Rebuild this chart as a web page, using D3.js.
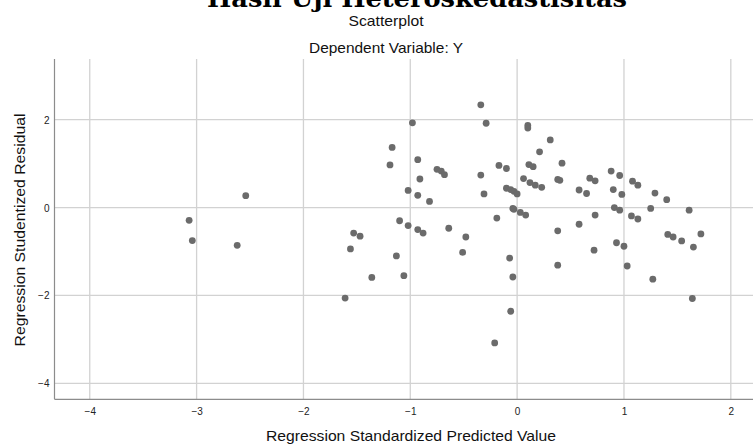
<!DOCTYPE html>
<html>
<head>
<meta charset="utf-8">
<script src="https://d3js.org/d3.v7.min.js"></script>
<style>
    body { margin: 0; background: #fff; }
    svg { display: block; overflow: hidden; }
    .tick-label { font-family: "Liberation Sans", Arial, sans-serif; font-size: 10px; fill: #222; }
    .lbl { font-family: "Liberation Sans", Arial, sans-serif; font-size: 15px; fill: #111; }
</style>
</head>
<body>
<div id="chart"></div>
<script>
    // chart texts
    var mainTitle = "Hasil Uji Heteroskedastisitas";
    var chartTitle = "Scatterplot";
    var subTitle = "Dependent Variable: Y";
    var xLabel = "Regression Standardized Predicted Value";
    var yLabel = "Regression Studentized Residual";

    var xTicks = [-4, -3, -2, -1, 0, 1, 2];
    var yTicks = [-4, -2, 0, 2];

    // standardized predicted value (x) / studentized residual (y)
    var predicted = [
        -1.17, -1.19, -2.54, -3.07, -3.04, -2.62, -1.53, -1.47, -1.56, -1.10,
        -1.13, -1.36, -1.61, -0.34, -0.98, -0.29, 0.10, 0.10, 0.31, 0.21,
        -0.93, 0.42, 0.11, 0.15, -0.17, -0.10, -0.75, -0.71, -0.68, -0.34,
        -0.91, 0.06, 0.38, 0.40, 0.12, 0.17, 0.23, -1.02, -0.10, -0.06,
        -0.03, 0.00, 0.58, -0.31, -0.93, -0.82, -0.04, -0.03, 0.03, 0.08,
        -0.19, -1.02, -0.93, -0.88, -0.64, 0.58, -0.48, 0.38, -0.51, -0.07,
        0.38, -1.06, -0.04, -0.06, -0.21, 0.88, 0.96, 0.68, 0.73, 1.08,
        1.13, 0.65, 0.90, 0.98, 1.29, 1.40, 0.91, 0.96, 1.25, 1.61,
        0.73, 1.07, 1.13, 1.41, 1.46, 1.54, 1.72, 0.93, 1.00, 1.65,
        0.72, 1.03, 1.27, 1.64
    ];
    var residual = [
        1.37, 0.97, 0.27, -0.29, -0.75, -0.86, -0.58, -0.65, -0.94, -0.30,
        -1.10, -1.59, -2.06, 2.34, 1.93, 1.92, 1.87, 1.81, 1.54, 1.27,
        1.09, 1.01, 0.98, 0.93, 0.96, 0.89, 0.87, 0.83, 0.75, 0.74,
        0.65, 0.66, 0.64, 0.62, 0.57, 0.51, 0.46, 0.39, 0.44, 0.41,
        0.37, 0.31, 0.40, 0.31, 0.28, 0.14, -0.02, -0.04, -0.11, -0.17,
        -0.24, -0.41, -0.50, -0.58, -0.47, -0.38, -0.67, -0.53, -1.02, -1.15,
        -1.31, -1.55, -1.58, -2.36, -3.08, 0.83, 0.73, 0.67, 0.61, 0.60,
        0.51, 0.32, 0.41, 0.30, 0.33, 0.18, 0.00, -0.06, -0.02, -0.06,
        -0.17, -0.19, -0.26, -0.61, -0.67, -0.76, -0.60, -0.80, -0.88, -0.90,
        -0.97, -1.33, -1.63, -2.07
    ];

    var width = 753, height = 444;
    var plot = { left: 54.5, right: 765, top: 59, bottom: 399.3 };

    var svg = d3.select("#chart").append("svg")
        .attr("width", width)
        .attr("height", height);

    var xScale = d3.scaleLinear().domain([-4.33, 2.32]).range([plot.left, plot.right]);
    var yScale = d3.scaleLinear().domain([-4.364, 3.382]).range([plot.bottom, plot.top]);

    // gridlines
    svg.append("g").selectAll("line")
        .data(xTicks).enter().append("line")
        .attr("x1", function (d) { return xScale(d); })
        .attr("x2", function (d) { return xScale(d); })
        .attr("y1", plot.top)
        .attr("y2", plot.bottom)
        .attr("stroke", "#d2d2d2")
        .attr("stroke-width", 1.3);

    svg.append("g").selectAll("line")
        .data(yTicks).enter().append("line")
        .attr("x1", plot.left)
        .attr("x2", plot.right)
        .attr("y1", function (d) { return yScale(d); })
        .attr("y2", function (d) { return yScale(d); })
        .attr("stroke", "#d2d2d2")
        .attr("stroke-width", 1.3);

    // axes (only the lines, labels drawn below)
    var xAxis = d3.axisBottom(xScale).tickValues(xTicks).tickSize(0).tickFormat(d3.format("d"));
    var yAxis = d3.axisLeft(yScale).tickValues(yTicks).tickSize(0).tickFormat(d3.format("d"));

    var gx = svg.append("g")
        .attr("transform", "translate(0," + plot.bottom + ")")
        .call(xAxis);
    gx.select(".domain").attr("stroke", "#8c8c8c").attr("stroke-width", 1.2)
        .attr("d", "M" + plot.left + ",0H" + plot.right);
    gx.selectAll(".tick text").attr("class", "tick-label")
        .attr("font-family", null).attr("font-size", null).attr("fill", null)
        .attr("y", 16).attr("dy", 0);

    var gy = svg.append("g")
        .attr("transform", "translate(" + plot.left + ",0)")
        .call(yAxis);
    gy.select(".domain").attr("stroke", "#8c8c8c").attr("stroke-width", 1.2)
        .attr("d", "M0," + plot.top + "V" + plot.bottom);
    gy.selectAll(".tick text").attr("class", "tick-label")
        .attr("font-family", null).attr("font-size", null).attr("fill", null)
        .attr("x", -5).attr("dy", "0.35em");

    // points
    svg.append("g").selectAll("circle")
        .data(predicted).enter().append("circle")
        .attr("cx", function (d) { return xScale(d); })
        .attr("cy", function (d, i) { return yScale(residual[i]); })
        .attr("r", 3.4)
        .attr("fill", "#6b6b6b");

    // titles
    svg.append("text")
        .attr("x", 417).attr("y", 6.5)
        .attr("text-anchor", "middle")
        .attr("font-family", "'DejaVu Serif', serif")
        .attr("font-weight", "bold")
        .attr("font-size", 24)
        .attr("textLength", 420)
        .attr("lengthAdjust", "spacingAndGlyphs")
        .attr("fill", "#000")
        .text(mainTitle);

    svg.append("text").attr("class", "lbl")
        .attr("x", 386).attr("y", 26)
        .attr("text-anchor", "middle")
        .attr("textLength", 75)
        .attr("lengthAdjust", "spacingAndGlyphs")
        .text(chartTitle);

    svg.append("text").attr("class", "lbl")
        .attr("x", 386).attr("y", 53)
        .attr("text-anchor", "middle")
        .attr("textLength", 154)
        .attr("lengthAdjust", "spacingAndGlyphs")
        .text(subTitle);

    svg.append("text").attr("class", "lbl")
        .attr("x", 411).attr("y", 441)
        .attr("text-anchor", "middle")
        .attr("textLength", 290)
        .attr("lengthAdjust", "spacingAndGlyphs")
        .text(xLabel);

    svg.append("text").attr("class", "lbl")
        .attr("transform", "translate(25,230) rotate(-90)")
        .attr("text-anchor", "middle")
        .attr("textLength", 233)
        .attr("lengthAdjust", "spacingAndGlyphs")
        .text(yLabel);
</script>
</body>
</html>
